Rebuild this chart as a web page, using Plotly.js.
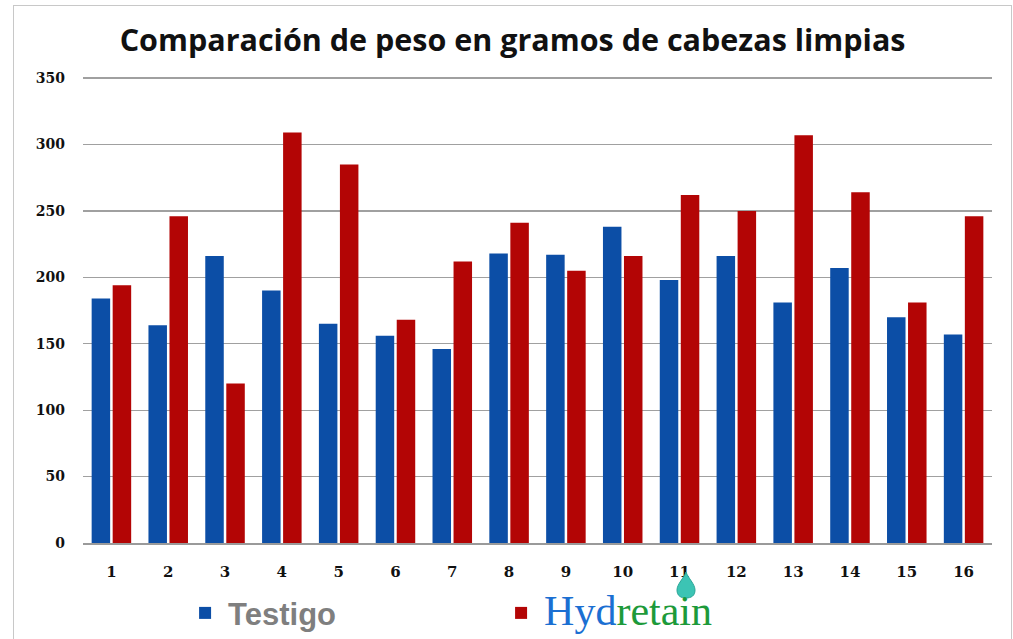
<!DOCTYPE html>
<html>
<head>
<meta charset="utf-8">
<script src="https://cdn.plot.ly/plotly-3.0.1.min.js"></script>
<style>
  html, body { margin: 0; padding: 0; background: #fff; overflow: hidden; }
  #frame { position: absolute; left: 13px; top: 5px; width: 997px; height: 700px; border: 1px solid #c8c8c8; pointer-events: none; }
  #chart { position: absolute; left: 0; top: 0; width: 1013px; height: 639px; }
</style>
</head>
<body>
<div id="chart"></div>
<div id="frame"></div>
<script>
const categories = ["1","2","3","4","5","6","7","8","9","10","11","12","13","14","15","16"];
const testigo   = [184, 164, 216, 190, 165, 156, 146, 218, 217, 238, 198, 216, 181, 207, 170, 157];
const hydretain = [194, 246, 120, 309, 285, 168, 212, 241, 205, 216, 262, 250, 307, 264, 181, 246];
const yTicks = [0, 50, 100, 150, 200, 250, 300, 350];

const traces = [
  { type: "bar", x: categories, y: testigo,
    name: "<span style='color:#7f7f7f;font-family:Liberation Sans, Arial, sans-serif;font-weight:bold;font-size:31px'>Testigo</span>",
    marker: { color: "#0c4ea6" }, hoverinfo: "y" },
  { type: "bar", x: categories, y: hydretain,
    name: "<span style='font-family:Liberation Serif, Times New Roman, serif;font-size:42px'><span style='color:#1b6fd2'>Hyd</span><span style='color:#1d9a3a'>retain</span></span>",
    marker: { color: "#b30505" }, hoverinfo: "y" }
];

const layout = {
  width: 1013, height: 639,
  margin: { l: 83, r: 21, t: 77, b: 96, autoexpand: false },
  paper_bgcolor: "#ffffff", plot_bgcolor: "#ffffff",
  title: { text: "<b>Comparación de peso en gramos de cabezas limpias</b>",
    font: { family: "Open Sans, sans-serif", size: 30.5, color: "#111" },
    x: 0.506, xanchor: "center", y: 0.937, yanchor: "middle" },
  barmode: "group", bargap: 0.26, bargroupgap: 0.12,
  xaxis: { type: "category", showgrid: false, showline: true, linecolor: "#9a9a9a", linewidth: 1.5,
    ticks: "", ticklabelstandoff: 14,
    tickfont: { family: "DejaVu Serif, serif", size: 15, color: "#111", weight: "bold" } },
  yaxis: { range: [0, 350.8], tickvals: yTicks, showgrid: true, gridcolor: "#a0a0a0", gridwidth: 1.3,
    zeroline: false, showline: false, ticks: "", ticklabelstandoff: 17,
    tickfont: { family: "DejaVu Serif, serif", size: 14, color: "#111", weight: "bold" } },
  showlegend: true,
  legend: { orientation: "h", x: 0.109, xanchor: "left", y: -0.15, yanchor: "middle",
    itemwidth: 36, entrywidth: 265, entrywidthmode: "pixels", font: { size: 30 }, bgcolor: "rgba(0,0,0,0)" },
  shapes: [
    { type: "path", xref: "paper", yref: "paper", xsizemode: "pixel", ysizemode: "pixel",
      xanchor: (686 - 83) / 909, yanchor: -(589 - 543) / 466,
      path: "M0,17 C2,11 9,5 9,-1 C9,-7 5,-9 0,-9 C-5,-9 -9,-7 -9,-1 C-9,5 -2,11 0,17 Z",
      fillcolor: "#3cc4b4", line: { color: "#2aa597", width: 1 } }
  ]
};

Plotly.newPlot("chart", traces, layout, { displayModeBar: false, staticPlot: true });
</script>
</body>
</html>
